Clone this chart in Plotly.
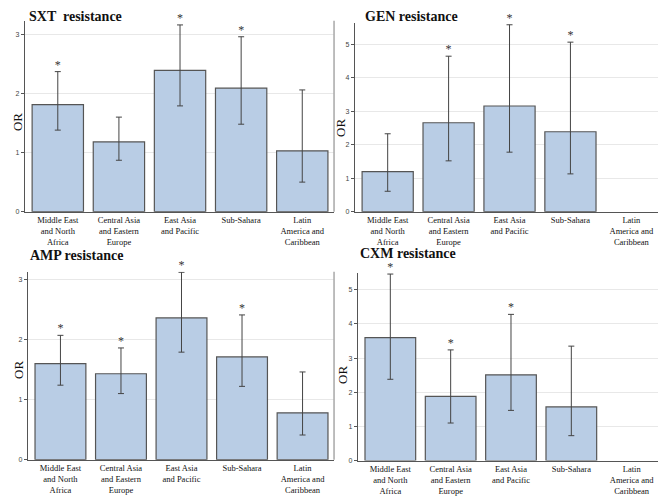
import plotly.graph_objects as go

categories = ["Middle East<br>and North<br>Africa", "Central Asia<br>and Eastern<br>Europe",
              "East Asia<br>and Pacific", "Sub-Sahara", "Latin<br>America and<br>Caribbean"]

titles = ["SXT  resistance", "GEN resistance", "AMP resistance", "CXM resistance"]

sxt_or = [1.81, 1.18, 2.39, 2.09, 1.03]
sxt_lo = [1.38, 0.87, 1.79, 1.48, 0.50]
sxt_hi = [2.37, 1.60, 3.16, 2.96, 2.06]
sxt_sig = [True, False, True, True, False]

gen_or = [1.20, 2.66, 3.16, 2.39, None]
gen_lo = [0.61, 1.52, 1.78, 1.13, None]
gen_hi = [2.33, 4.65, 5.59, 5.07, None]
gen_sig = [False, True, True, True, False]

amp_or = [1.60, 1.43, 2.36, 1.71, 0.78]
amp_lo = [1.24, 1.10, 1.79, 1.22, 0.41]
amp_hi = [2.07, 1.86, 3.12, 2.41, 1.46]
amp_sig = [True, True, True, True, False]

cxm_or = [3.60, 1.88, 2.51, 1.57, None]
cxm_lo = [2.38, 1.10, 1.47, 0.73, None]
cxm_hi = [5.46, 3.24, 4.28, 3.35, None]
cxm_sig = [True, True, True, False, False]

y_ranges = [[0, 3.23], [0, 5.65], [0, 3.13], [0, 5.5]]

panels = [
    (sxt_or, sxt_lo, sxt_hi, sxt_sig),
    (gen_or, gen_lo, gen_hi, gen_sig),
    (amp_or, amp_lo, amp_hi, amp_sig),
    (cxm_or, cxm_lo, cxm_hi, cxm_sig),
]

# reference canvas size (layout fractions are computed from it)
RW, RH = 666, 498
# figure size: page body has an 8px margin, so the figure is slightly smaller
W, H = 658, 490
# reference pixel boxes (left, right, top, bottom)
boxes = [(17, 330, 13, 207), (351, 663, 15, 207), (20, 330, 268, 459), (354, 663, 269, 460)]
# title anchor: (x, y, yanchor)
title_pos = [(20, 0, "top"), (360, 0, "top"), (21, 252, "middle"), (355, 249, "middle")]
or_pos = [(9, 116), (336, 122), (10, 368), (338, 373)]

fig = go.Figure()
SERIF = "Liberation Serif, Times New Roman, serif"
layout_upd = {}

for i, (vals, lo, hi, sig) in enumerate(panels):
    n = i + 1
    xa = "x" if n == 1 else f"x{n}"
    ya = "y" if n == 1 else f"y{n}"
    plus = [None if v is None else h - v for v, h in zip(vals, hi)]
    minus = [None if v is None else v - l for v, l in zip(vals, lo)]
    fig.add_trace(go.Bar(
        x=categories, y=vals, xaxis=xa, yaxis=ya,
        marker=dict(color="#b9cde5", line=dict(color="#555555", width=1.2)),
        error_y=dict(type="data", symmetric=False, array=plus, arrayminus=minus,
                     color="#444444", thickness=1, width=3),
        showlegend=False, hoverinfo="skip",
    ))
    sx = [c for c, s in zip(categories, sig) if s]
    sy = [h for h, s in zip(hi, sig) if s]
    fig.add_trace(go.Scatter(
        x=sx, y=sy, xaxis=xa, yaxis=ya, mode="text", text=["*"] * len(sx),
        textposition="top center", textfont=dict(family=SERIF, size=12, color="#333333"),
        showlegend=False, hoverinfo="skip", cliponaxis=False,
    ))
    l, r, t, b = boxes[i]
    xkey = "xaxis" if n == 1 else f"xaxis{n}"
    ykey = "yaxis" if n == 1 else f"yaxis{n}"
    layout_upd[xkey] = dict(
        domain=[l / RW, r / RW], anchor=ya, range=[-0.54, 4.52], automargin=False,
        showline=True, linecolor="#555555", linewidth=1, ticks="",
        tickfont=dict(family=SERIF, size=8.5, color="#111111"), showgrid=False,
        fixedrange=True,
    )
    layout_upd[ykey] = dict(
        domain=[1 - b / RH, 1 - t / RH], anchor=xa, range=y_ranges[i], automargin=False,
        showline=True, linecolor="#555555", linewidth=1,
        ticks="outside", ticklen=3, tickcolor="#555555", dtick=1,
        tickfont=dict(family="Liberation Sans, Arial, sans-serif", size=7, color="#444444"),
        showgrid=True, gridcolor="#e8e8e8", gridwidth=1, zeroline=False,
        fixedrange=True,
    )
    # right border of plot area
    fig.add_shape(type="line", xref=f"{xa} domain", yref=f"{ya} domain",
                  x0=1, x1=1, y0=0, y1=1, line=dict(color="#a8a8a8", width=1.5))
    tx, ty, tanchor = title_pos[i]
    fig.add_annotation(text=f"<b>{titles[i]}</b>", xref="paper", yref="paper",
                       x=tx / RW, y=1 - ty / RH, xanchor="left", yanchor=tanchor,
                       showarrow=False, borderpad=0,
                       font=dict(family=SERIF, size=14, color="#111111"))
    ox, oy = or_pos[i]
    fig.add_annotation(text="OR", xref="paper", yref="paper", textangle=-90,
                       x=ox / RW, y=1 - oy / RH, xanchor="center", yanchor="middle",
                       showarrow=False, font=dict(family=SERIF, size=13, color="#111111"))

fig.update_layout(
    width=W, height=H, margin=dict(l=0, r=0, t=0, b=0),
    paper_bgcolor="white", plot_bgcolor="white", bargap=0.16,
    **layout_upd,
)

fig.write_html("out.html")
